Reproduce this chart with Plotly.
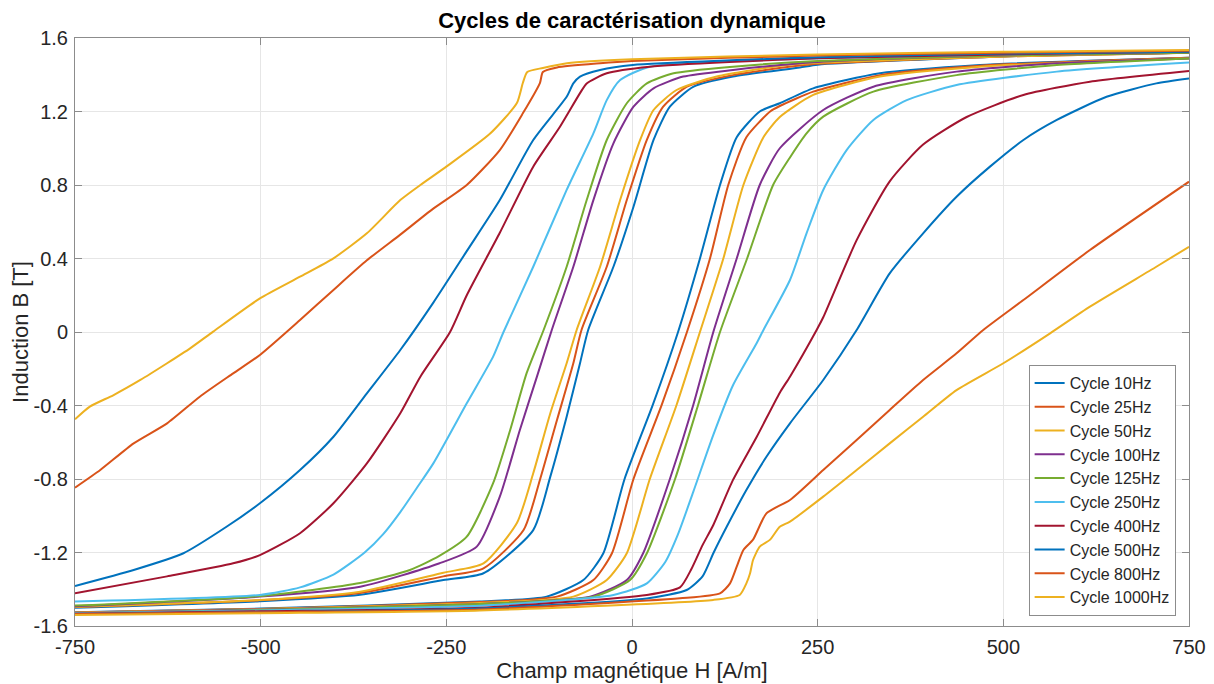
import plotly.graph_objects as go

# Cycles B(H) : branche descendante (haut) et montante (bas)
frequences = ["10Hz", "25Hz", "50Hz", "100Hz", "125Hz", "250Hz", "400Hz", "500Hz", "800Hz", "1000Hz"]
couleurs = ["#0072BD", "#D95319", "#EDB120", "#7E2F8E", "#77AC30",
            "#4DBEEE", "#A2142F", "#0072BD", "#D95319", "#EDB120"]

up_10 = [(750, 1.52), (500, 1.50), (250, 1.455), (226, 1.44), (136, 1.39), (83, 1.335), (51, 1.226),
         (29, 1.045), (2, 0.682), (-25, 0.355), (-59, 0.011), (-70, -0.17), (-88, -0.461), (-110, -0.787),
         (-133, -1.078), (-200, -1.313), (-254, -1.35), (-366, -1.43), (-501, -1.465), (-750, -1.50)]
low_10 = [(-750, -1.525), (-500, -1.505), (-205, -1.467), (-115, -1.44), (-65.5, -1.35), (-38.6, -1.204),
          (-10, -0.80), (28, -0.397), (62, 0.0), (91.5, 0.4), (118.5, 0.8), (141, 1.06), (172, 1.2),
          (199, 1.245), (244, 1.326), (334, 1.408), (468.5, 1.453), (603, 1.475), (750, 1.493)]

up_25 = [(750, 1.52), (500, 1.50), (250, 1.46), (226, 1.45), (136, 1.398), (74, 1.335), (42, 1.226),
         (20, 1.045), (-7, 0.718), (-34, 0.355), (-68, 0.011), (-79, -0.17), (-101, -0.479), (-124, -0.805),
         (-146, -1.078), (-200, -1.286), (-254, -1.33), (-366, -1.42), (-501, -1.46), (-750, -1.497)]
low_25 = [(-750, -1.527), (-500, -1.507), (-205, -1.47), (-101, -1.44), (-52, -1.35), (-27, -1.204),
          (2, -0.80), (40, -0.397), (74, 0.0), (105, 0.4), (129.6, 0.8), (154, 1.06), (186, 1.2),
          (199, 1.23), (244, 1.308), (334, 1.398), (468.5, 1.449), (603, 1.473), (750, 1.492)]

up_50 = [(750, 1.52), (500, 1.50), (250, 1.465), (203, 1.45), (114, 1.39), (60, 1.317), (29, 1.208),
         (11, 1.045), (-16, 0.718), (-43, 0.355), (-74.5, 0.011), (-88, -0.17), (-110, -0.442), (-133, -0.769),
         (-155, -1.04), (-200, -1.259), (-254, -1.31), (-366, -1.413), (-501, -1.458), (-750, -1.495)]
low_50 = [(-750, -1.528), (-500, -1.508), (-205, -1.475), (-79, -1.44), (-34, -1.35), (-7, -1.204),
          (24, -0.80), (60, -0.397), (91.5, 0.0), (123, 0.4), (150, 0.8), (177, 1.06), (199, 1.17),
          (244, 1.29), (334, 1.39), (468.5, 1.444), (603, 1.47), (750, 1.49)]

up_100 = [(750, 1.52), (500, 1.505), (250, 1.47), (136, 1.426), (69, 1.39), (29, 1.326), (2, 1.226),
          (-25, 1.027), (-52, 0.718), (-79, 0.355), (-108, 0.011), (-128, -0.243), (-151, -0.533),
          (-178, -0.896), (-209, -1.168), (-260, -1.26), (-366, -1.386), (-501, -1.44), (-750, -1.492)]
low_100 = [(-750, -1.53), (-500, -1.51), (-205, -1.48), (-56.5, -1.44), (-7, -1.35), (15, -1.204),
           (51, -0.80), (82.5, -0.397), (109.5, 0.0), (141, 0.4), (172, 0.8), (199, 1.0), (257.5, 1.208),
           (325, 1.335), (437, 1.417), (572, 1.462), (750, 1.489)]

up_125 = [(750, 1.52), (500, 1.505), (250, 1.475), (136, 1.444), (56, 1.408), (20, 1.353), (-7, 1.245),
          (-34, 1.045), (-61, 0.718), (-88, 0.355), (-119, 0.011), (-142, -0.225), (-164, -0.533),
          (-187, -0.823), (-222.5, -1.114), (-260, -1.22), (-299, -1.295), (-366, -1.366), (-501, -1.437),
          (-750, -1.489)]
low_125 = [(-750, -1.532), (-500, -1.512), (-205, -1.48), (-52, -1.44), (-2.7, -1.35), (20, -1.204),
           (58, -0.80), (89, -0.397), (118.5, 0.0), (155, 0.4), (190, 0.8), (212.7, 0.95), (235, 1.081),
           (257.5, 1.172), (325, 1.308), (437, 1.398), (572, 1.453), (750, 1.489)]

up_250 = [(750, 1.525), (500, 1.51), (250, 1.49), (24, 1.444), (-16, 1.371), (-34, 1.262), (-52, 1.081),
          (-88, 0.773), (-133, 0.355), (-173, 0.0), (-187, -0.134), (-222.5, -0.388), (-267.5, -0.715),
          (-290, -0.85), (-312, -0.98), (-335, -1.1), (-360, -1.2), (-402, -1.32), (-447, -1.39),
          (-501, -1.431), (-750, -1.467)]
low_250 = [(-750, -1.53), (-500, -1.515), (-205, -1.49), (-25, -1.431), (20, -1.368), (45, -1.25),
           (62, -1.1), (82.5, -0.87), (109.5, -0.56), (136, -0.29), (168, -0.06), (177, 0.011),
           (212.7, 0.283), (235, 0.537), (257.5, 0.773), (289, 0.99), (325, 1.154), (370, 1.262),
           (437, 1.344), (572, 1.417), (750, 1.466)]

up_400 = [(750, 1.525), (500, 1.51), (250, 1.49), (24, 1.444), (-34, 1.408), (-61, 1.353), (-70, 1.30),
          (-97, 1.117), (-133, 0.9), (-178, 0.54), (-222.5, 0.2), (-245, 0.0),
          (-285, -0.243), (-312, -0.442), (-357, -0.715), (-402, -0.932), (-447, -1.095), (-501, -1.214),
          (-537, -1.259), (-626, -1.33), (-750, -1.422)]
low_400 = [(-750, -1.533), (-500, -1.52), (-205, -1.5), (20, -1.431), (64.6, -1.39), (80, -1.29),
           (95, -1.16), (109.5, -1.05), (136, -0.805), (168, -0.57), (199, -0.33), (212.7, -0.243),
           (248.6, 0.011), (257.5, 0.08), (302.5, 0.5), (347, 0.82), (392, 1.02), (450.6, 1.17),
           (527, 1.29), (616.6, 1.362), (750, 1.42)]

up_500 = [(750, 1.525), (500, 1.515), (250, 1.495), (1, 1.453), (-43, 1.426), (-70, 1.39), (-79, 1.353),
          (-88, 1.28), (-133, 1.045), (-178, 0.718), (-222.5, 0.44), (-267.5, 0.16),
          (-312, -0.098), (-357, -0.334), (-402, -0.57), (-447, -0.751), (-501, -0.932), (-546, -1.06),
          (-604, -1.204), (-671, -1.295), (-750, -1.382)]
low_500 = [(-750, -1.535), (-500, -1.525), (-205, -1.505), (20, -1.45), (73.6, -1.404), (95, -1.33),
           (110, -1.2), (127.5, -1.06), (154, -0.86), (181, -0.679), (212.7, -0.497), (257.5, -0.261),
           (302.5, 0.011), (347, 0.319), (392, 0.537), (437, 0.736), (482, 0.9), (527, 1.045),
           (572, 1.154), (639, 1.28), (706, 1.353), (750, 1.38)]

up_800 = [(750, 1.53), (500, 1.52), (250, 1.505), (0, 1.475), (-43, 1.463), (-101, 1.44), (-120, 1.415),
          (-124, 1.355), (-147, 1.19), (-178, 0.99), (-222.5, 0.80), (-268, 0.67), (-312, 0.53),
          (-357, 0.39), (-402, 0.229), (-447, 0.065), (-501, -0.125), (-537, -0.225),
          (-582, -0.352), (-626, -0.497), (-671, -0.606), (-716, -0.751), (-750, -0.847)]
low_800 = [(-750, -1.535), (-500, -1.525), (-205, -1.51), (64.6, -1.449), (118.5, -1.422), (132, -1.368),
           (141, -1.277), (150, -1.186), (163, -1.13), (181, -0.987), (212.7, -0.914), (257.5, -0.751),
           (302.5, -0.588), (347, -0.424), (392, -0.261), (437, -0.116), (473, 0.011), (527, 0.174),
           (616.6, 0.446), (750, 0.818)]

up_1000 = [(750, 1.535), (500, 1.525), (250, 1.51), (0, 1.485), (-87.5, 1.463), (-120, 1.437),
           (-141, 1.415), (-147, 1.355), (-155, 1.246), (-191, 1.08), (-250, 0.90), (-285, 0.80),
           (-312, 0.718), (-357, 0.537), (-402, 0.401), (-447, 0.301), (-501, 0.183), (-564, 0.002),
           (-595, -0.089), (-626, -0.17), (-662, -0.261), (-698, -0.343), (-730, -0.406), (-750, -0.475)]
low_1000 = [(-750, -1.54), (-500, -1.53), (-205, -1.515), (109.5, -1.458), (145, -1.431), (154, -1.368),
            (159, -1.313), (163, -1.241), (172, -1.168), (186, -1.13), (199, -1.06), (212.7, -1.032),
            (257.5, -0.896), (302.5, -0.751), (347, -0.606), (392, -0.461), (437, -0.316), (500, -0.17),
            (563, -0.007), (616.6, 0.138), (706, 0.355), (750, 0.464)]

branches_haut = [up_10, up_25, up_50, up_100, up_125, up_250, up_400, up_500, up_800, up_1000]
branches_bas = [low_10, low_25, low_50, low_100, low_125, low_250, low_400, low_500, low_800, low_1000]

x_ticks = [-750, -500, -250, 0, 250, 500, 750]
y_ticks = [-1.6, -1.2, -0.8, -0.4, 0, 0.4, 0.8, 1.2, 1.6]
y_labels = ["-1.6", "-1.2", "-0.8", "-0.4", "0", "0.4", "0.8", "1.2", "1.6"]

fig = go.Figure()
for nom, coul, haut, bas in zip(frequences, couleurs, branches_haut, branches_bas):
    xs = [p[0] for p in haut] + [None] + [p[0] for p in bas]
    ys = [p[1] for p in haut] + [None] + [p[1] for p in bas]
    fig.add_trace(go.Scatter(x=xs, y=ys, mode="lines", name="Cycle " + nom,
                             line=dict(color=coul, width=2, shape="spline", smoothing=0.6)))

axe = dict(showline=True, linecolor="#8c8c8c", linewidth=1, mirror="ticks", ticks="inside",
           ticklen=7, tickcolor="#8c8c8c", showgrid=True, gridcolor="#e6e6e6", gridwidth=1,
           zeroline=False, automargin=False, tickfont=dict(size=20, color="#262626"))

# la page ajoute 8 px de marge au body : la figure est réduite d'autant
fig.update_layout(
    width=1206, height=676,
    margin=dict(l=67, r=25, t=30, b=58),
    paper_bgcolor="white", plot_bgcolor="white",
    font=dict(family="Liberation Sans, Arial, sans-serif", color="#262626"),
    title=dict(text="<b>Cycles de caractérisation dynamique</b>", xref="paper", x=0.5, xanchor="center",
               yref="container", y=0.982, yanchor="middle", font=dict(size=22, color="#000000")),
    legend=dict(x=0.988, y=0.017, xanchor="right", yanchor="bottom", bgcolor="white",
                bordercolor="#8c8c8c", borderwidth=1, font=dict(size=16, color="#262626"),
                tracegroupgap=0, itemwidth=30),
)
fig.update_xaxes(range=[-750, 750], tickvals=x_ticks, ticktext=[str(v) for v in x_ticks],
                 ticklabelstandoff=3,
                 title=dict(text="Champ magnétique H [A/m]", font=dict(size=22), standoff=0), **axe)
fig.update_yaxes(range=[-1.6, 1.6], tickvals=y_ticks, ticktext=y_labels, ticklabelstandoff=2,
                 title=dict(text="Induction B [T]", font=dict(size=22), standoff=0), **axe)

fig.write_html("out.html")
